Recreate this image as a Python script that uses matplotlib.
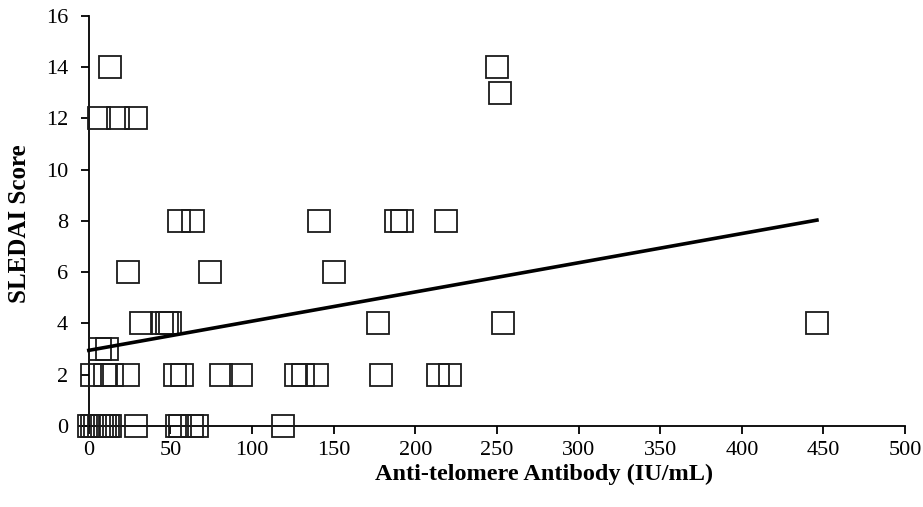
import numpy as np
import matplotlib
matplotlib.use("Agg")
import matplotlib.pyplot as plt

# SLEDAI score vs anti-telomere antibody
antibody_0 = [0, 2, 4, 6, 8, 10, 12, 13, 29, 54, 56, 63, 66, 119]
antibody_2 = [2, 10, 14, 24, 53, 57, 81, 93, 127, 131, 140, 179, 214, 221]
antibody_3 = [7, 11]
antibody_4 = [32, 45, 48, 50, 177, 254, 446]
antibody_6 = [24, 74, 150]
antibody_8 = [55, 64, 141, 188, 192, 219]
antibody_12 = [6, 18, 29]
antibody_13 = [252]
antibody_14 = [13, 250]

groups = [(0, antibody_0), (2, antibody_2), (3, antibody_3), (4, antibody_4),
          (6, antibody_6), (8, antibody_8), (12, antibody_12), (13, antibody_13),
          (14, antibody_14)]

x = np.array([v for score, vals in groups for v in vals], dtype=float)
y = np.array([score for score, vals in groups for v in vals], dtype=float)

plt.rcParams['font.family'] = ['Liberation Serif', 'DejaVu Serif']

fig = plt.figure(figsize=(9.23, 5.07), dpi=100)
ax = fig.add_axes([0.0856, 0.1598, 0.895, 0.8092])

ax.plot(x, y, linestyle='none', marker='s', markersize=16.5,
        markerfacecolor='none', markeredgecolor='#1a1a1a', markeredgewidth=1.3,
        clip_on=False, zorder=3)

# least-squares trend line over the data range
slope, intercept = np.polyfit(x, y, 1)
xs = np.array([x.min(), x.max()])
ax.plot(xs, intercept + slope * xs, color='black', linewidth=2.6, zorder=4)

ax.set_xlim(-6, 500)
ax.set_ylim(0, 16)
ax.set_xticks(np.arange(0, 501, 50))
ax.set_yticks(np.arange(0, 17, 2))

ax.spines['left'].set_position(('data', 0))
for side in ['top', 'right']:
    ax.spines[side].set_visible(False)
for side in ['left', 'bottom']:
    ax.spines[side].set_linewidth(1.3)
ax.tick_params(direction='out', length=6, width=1.3, labelsize=16)
ax.tick_params(axis='x', pad=5)
ax.tick_params(axis='y', pad=9)

ax.set_xlabel('Anti-telomere Antibody (IU/mL)', fontsize=17.5, fontweight='bold')
ax.set_ylabel('SLEDAI Score', fontsize=18, fontweight='bold')
ax.xaxis.set_label_coords(0.5632, -0.092)
ax.yaxis.set_label_coords(-0.058, 0.493)

fig.savefig('out.png', dpi=100)
